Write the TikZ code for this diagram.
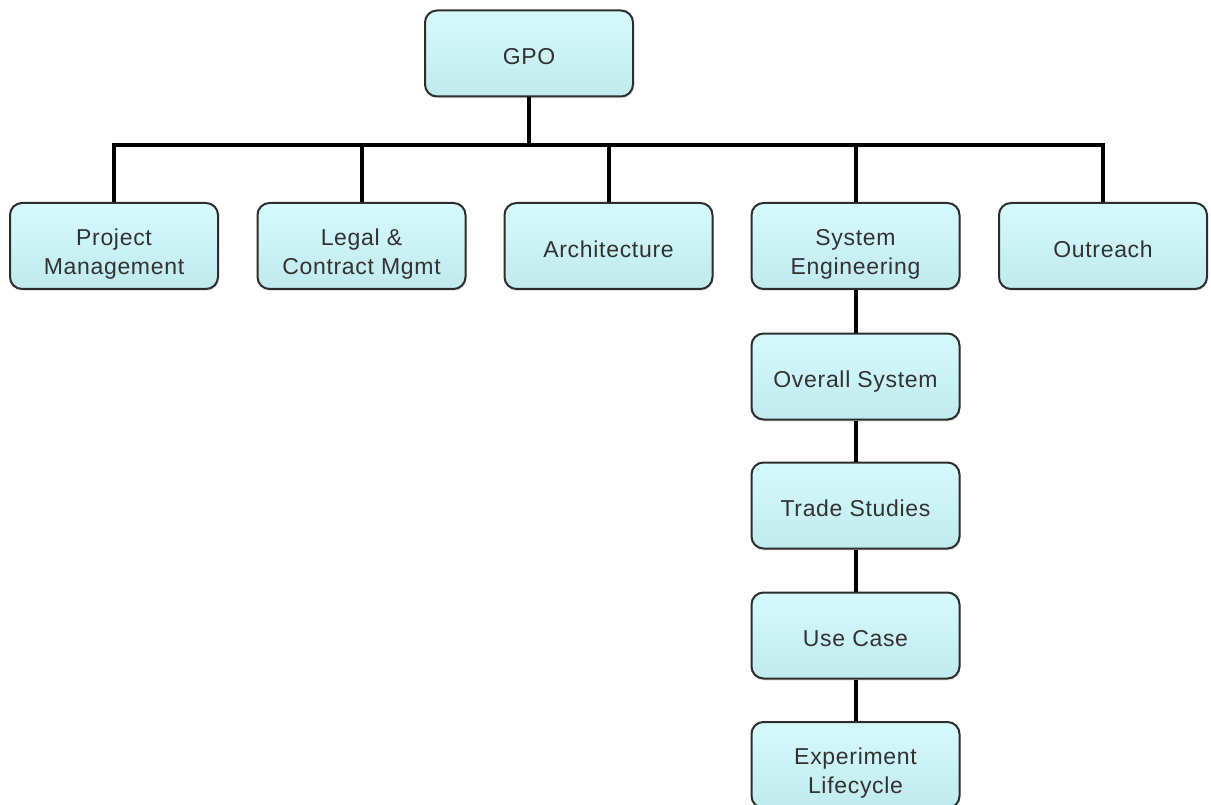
\documentclass[tikz,border=0pt]{standalone}
\usepackage{fontspec}
\setmainfont{Liberation Sans}[LetterSpace=3]
\usetikzlibrary{shadows}
\definecolor{boxtop}{RGB}{214,250,252}
\definecolor{boxbot}{RGB}{192,234,237}
\definecolor{boxline}{RGB}{45,45,45}
\definecolor{boxtext}{RGB}{50,50,50}
\newcommand\boxtext[2][5.6pt]{\raisebox{-#1}[\height][\depth]{\begin{tabular}{@{}c@{}}#2\end{tabular}}}
\tikzset{
  orgbox/.style={rectangle, rounded corners=12pt, draw=boxline, line width=2pt,
    top color=boxtop, bottom color=boxbot,
    drop shadow={opacity=0.2, shadow xshift=1pt, shadow yshift=-2pt},
    minimum width=208pt, minimum height=86pt, inner sep=0pt,
    text=boxtext, font=\fontsize{23}{28.4}\selectfont},
  conn/.style={line width=4pt, black}
}
\begin{document}
\begin{tikzpicture}[x=1pt,y=-1pt]
\path[use as bounding box] (0,0) rectangle (1211,805);
\node[orgbox] (gpo) at (529,53.5) {\boxtext{GPO}};
\node[orgbox] (pm) at (114,246) {\boxtext[8.5pt]{Project\\Management}};
\node[orgbox] (lg) at (361.5,246) {\boxtext[8.5pt]{Legal \&\\Contract Mgmt}};
\node[orgbox] (ar) at (608.5,246) {\boxtext{Architecture}};
\node[orgbox] (se) at (855.5,246) {\boxtext[8.5pt]{System\\Engineering}};
\node[orgbox] (ou) at (1103,246) {\boxtext{Outreach}};
\node[orgbox] (os) at (855.5,376.5) {\boxtext{Overall System}};
\node[orgbox] (ts) at (855.5,505.5) {\boxtext{Trade Studies}};
\node[orgbox] (uc) at (855.5,635.5) {\boxtext{Use Case}};
\node[orgbox] (ex) at (855.5,765) {\boxtext[8.5pt]{Experiment\\Lifecycle}};
\coordinate (bar) at (0,145);
\draw[conn] (gpo.south) -- (gpo.south |- bar);
\draw[conn] (pm.north) -- (pm.north |- bar) -- (ou.north |- bar) -- (ou.north);
\draw[conn] (lg.north) -- (lg.north |- bar);
\draw[conn] (ar.north) -- (ar.north |- bar);
\draw[conn] (se.north) -- (se.north |- bar);
\draw[conn] (se.south) -- (os.north);
\draw[conn] (os.south) -- (ts.north);
\draw[conn] (ts.south) -- (uc.north);
\draw[conn] (uc.south) -- (ex.north);
\end{tikzpicture}
\end{document}
